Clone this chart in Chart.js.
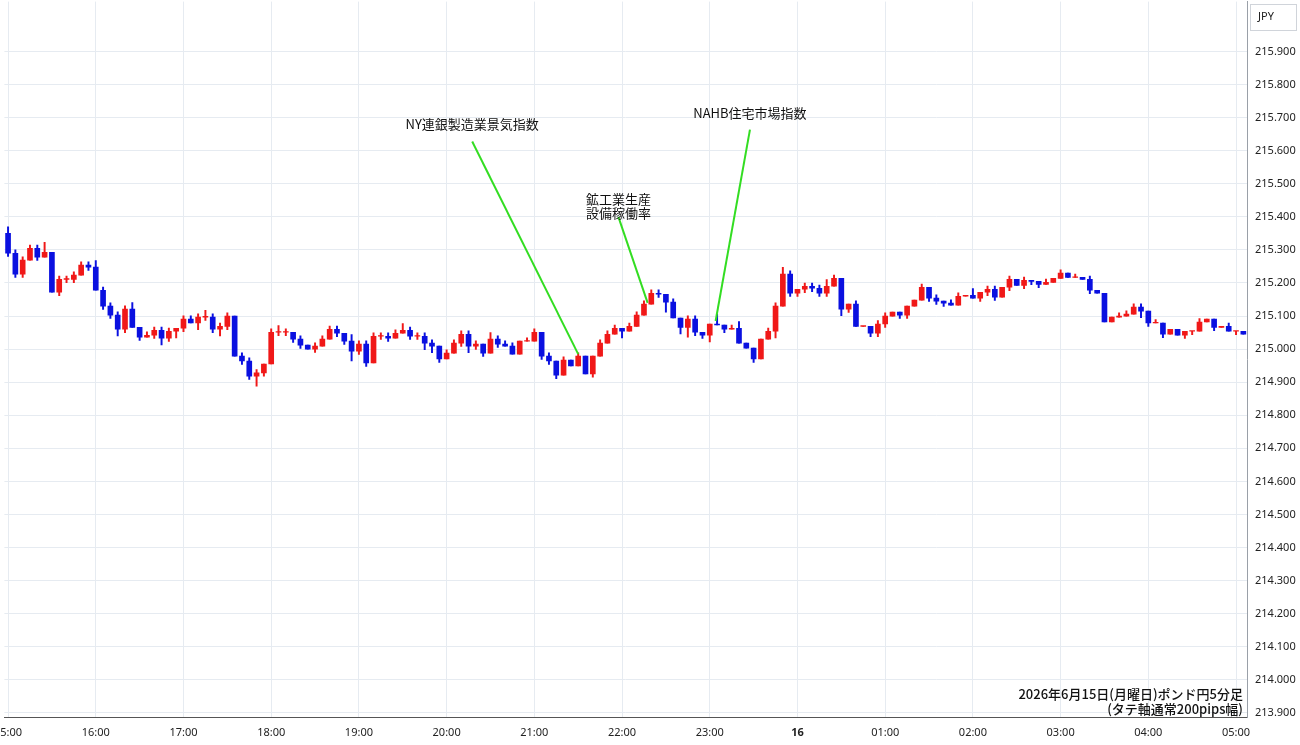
<!DOCTYPE html>
<html><head><meta charset="utf-8">
<script src="https://cdn.jsdelivr.net/npm/chart.js@4.4.1/dist/chart.umd.min.js"></script>
<style>html,body{margin:0;padding:0;background:#fff}#o{position:relative;width:1300px;height:745px;overflow:hidden}#w{position:absolute;left:-14px;top:-13px;width:1314px;height:760px}</style>
</head><body><div id="o"><div id="w"><canvas id="c"></canvas></div></div>
<script>
const firstOpen = 215.350;
const closes = [215.290,215.227,215.269,215.305,215.278,215.293,215.172,215.211,215.211,215.224,215.254,215.248,
215.178,215.130,215.103,215.060,215.121,215.066,215.036,215.042,215.057,215.033,215.054,215.063,
215.091,215.079,215.097,215.097,215.060,215.069,215.100,214.979,214.964,214.918,214.928,214.955,
215.051,215.051,215.051,215.030,215.012,215.000,215.009,215.030,215.060,215.048,215.024,214.994,
215.015,214.958,215.039,215.039,215.033,215.048,215.057,215.039,215.039,215.018,215.009,214.970,
214.988,215.018,215.045,215.009,215.015,214.988,215.030,215.015,215.009,214.985,215.024,215.024,
215.051,214.979,214.964,214.921,214.967,214.949,214.979,214.925,214.979,215.018,215.045,215.063,
215.054,215.069,215.103,215.136,215.169,215.166,215.142,215.094,215.066,215.091,215.051,215.042,
215.076,215.073,215.060,215.063,215.018,215.003,214.970,215.030,215.054,215.130,215.227,215.169,
215.181,215.190,215.184,215.169,215.190,215.214,215.121,215.136,215.069,215.069,215.048,215.076,
215.100,215.112,215.103,215.130,215.148,215.187,215.154,215.145,215.139,215.133,215.160,215.163,
215.154,215.172,215.181,215.157,215.187,215.211,215.193,215.208,215.205,215.196,215.202,215.214,
215.230,215.217,215.217,215.211,215.178,215.169,215.082,215.097,215.100,215.106,215.127,215.115,
215.079,215.079,215.045,215.060,215.042,215.054,215.054,215.082,215.091,215.066,215.069,215.054,
215.054,215.045];
const wickUp = [0.02,0.01,0.01,0.01,0.01,0.03,0.0,0.01,0.01,0.01,0.01,0.01, 0.02,0.01,0.01,0.01,0.01,0.02,0.0,0.01,0.01,0.01,0.01,0.0,
0.01,0.01,0.01,0.02,0.01,0.01,0.01,0.0,0.01,0.01,0.01,0.0, 0.01,0.02,0.01,0.0,0.01,0.0,0.01,0.01,0.01,0.01,0.0,0.02,
0.01,0.01,0.01,0.01,0.01,0.01,0.02,0.01,0.01,0.01,0.01,0.0, 0.01,0.01,0.01,0.01,0.01,0.0,0.02,0.01,0.01,0.01,0.0,0.01,
0.01,0.0,0.01,0.0,0.01,0.0,0.01,0.0,0.0,0.01,0.01,0.01, 0.0,0.01,0.01,0.01,0.01,0.01,0.0,0.01,0.0,0.01,0.01,0.0,
0.0,0.03,0.0,0.01,0.02,0.0,0.0,0.0,0.01,0.01,0.02,0.01, 0.0,0.01,0.01,0.01,0.02,0.01,0.0,0.0,0.01,0.0,0.0,0.01,
0.01,0.0,0.0,0.0,0.0,0.01,0.0,0.01,0.0,0.01,0.01,0.0, 0.02,0.0,0.01,0.01,0.0,0.01,0.0,0.01,0.0,0.0,0.01,0.0,
0.01,0.0,0.01,0.0,0.01,0.0,0.0,0.0,0.01,0.01,0.01,0.01, 0.0,0.01,0.0,0.0,0.0,0.0,0.0,0.01,0.0,0.0,0.0,0.01,0.0,0.0];
const wickDn = [0.01,0.01,0.01,0.0,0.01,0.0,0.0,0.01,0.01,0.01,0.0,0.01, 0.0,0.01,0.01,0.02,0.01,0.0,0.01,0.0,0.01,0.02,0.01,0.02,
0.01,0.0,0.02,0.01,0.01,0.02,0.01,0.0,0.01,0.01,0.03,0.01, 0.0,0.01,0.01,0.01,0.01,0.0,0.01,0.0,0.0,0.01,0.01,0.03,
0.01,0.01,0.0,0.01,0.01,0.0,0.0,0.01,0.01,0.02,0.02,0.01, 0.0,0.0,0.01,0.02,0.01,0.01,0.0,0.01,0.0,0.0,0.0,0.0,
0.0,0.01,0.01,0.01,0.0,0.0,0.0,0.0,0.01,0.0,0.0,0.0, 0.02,0.0,0.0,0.0,0.0,0.01,0.03,0.0,0.02,0.03,0.01,0.01,
0.02,0.0,0.01,0.0,0.0,0.0,0.01,0.0,0.0,0.02,0.0,0.01, 0.01,0.01,0.01,0.01,0.01,0.0,0.02,0.01,0.0,0.0,0.01,0.01,
0.01,0.0,0.01,0.01,0.0,0.0,0.01,0.01,0.01,0.0,0.0,0.0, 0.0,0.01,0.01,0.01,0.0,0.01,0.0,0.01,0.01,0.01,0.0,0.0,
0.0,0.0,0.0,0.0,0.01,0.0,0.0,0.0,0.0,0.0,0.0,0.02, 0.01,0.0,0.01,0.0,0.0,0.01,0.01,0.0,0.0,0.01,0.0,0.0,0.01,0.0];
const startHour = 15;
const timeLabels = closes.map((_, i) => {
  const m = i * 5, h = (startHour + Math.floor(m / 60)) % 24, mm = m % 60;
  return String(h).padStart(2,'0') + ':' + String(mm).padStart(2,'0');
});
const tickLabels = ['215.900','215.800','215.700','215.600','215.500','215.400','215.300','215.200','215.100','215.000',
 '214.900','214.800','214.700','214.600','214.500','214.400','214.300','214.200','214.100','214.000','213.900'];
const events = [
  {text:['NY連銀製造業景気指数'], tx:63.5, ty:215.655, fromY:215.628, toI:78, toV:214.985},
  {text:['鉱工業生産','設備稼働率'], tx:83.5, ty:215.388, fromY:215.40, toI:87.5, toV:215.140},
  {text:['NAHB住宅市場指数'], tx:101.5, ty:215.690, fromY:215.664, toI:96.8, toV:215.085}
];
const noteLines = ['2026年6月15日(月曜日)ポンド円5分足','(タテ軸通常200pips幅)'];

const opens = closes.map((c, i) => i === 0 ? firstOpen : closes[i-1]);
const RED = '#f01818', BLUE = '#0a10e0';
const cols = closes.map((c, i) => c >= opens[i] ? RED : BLUE);
const bodies = closes.map((c, i) => {
  let a = opens[i], b = c; if (Math.abs(a-b) < 0.002) { b = a + (c >= a ? 0.002 : -0.002); }
  return [a, b];
});
const wicks = closes.map((c, i) => [Math.min(opens[i], c) - wickDn[i], Math.max(opens[i], c) + wickUp[i]]);

const overlay = {
  id:'overlay',
  afterDatasetsDraw(chart){
    const ctx = chart.ctx, x = chart.scales.x, y = chart.scales.y;
    ctx.save();
    ctx.strokeStyle = '#33dd22'; ctx.lineWidth = 2;
    ctx.fillStyle = '#111'; ctx.font = '13px "Noto Sans CJK JP", sans-serif';
    ctx.textAlign = 'center'; ctx.textBaseline = 'middle';
    const px = v => x.getPixelForValue(0) + v * (x.getPixelForValue(1) - x.getPixelForValue(0));
    events.forEach(e => {
      ctx.beginPath(); ctx.moveTo(px(e.tx), y.getPixelForValue(e.fromY));
      ctx.lineTo(px(e.toI), y.getPixelForValue(e.toV)); ctx.stroke();
      const n = e.text.length;
      e.text.forEach((t, k) => ctx.fillText(t, px(e.tx), y.getPixelForValue(e.ty) - (n - 1 - k) * 14 - 8));
    });
    ctx.textAlign = 'right'; ctx.font = '500 13px "Noto Sans CJK JP", sans-serif';
    ctx.fillText(noteLines[0], x.right - 4, y.getPixelForValue(213.9) - 19);
    ctx.fillText(noteLines[1], x.right - 4, y.getPixelForValue(213.9) - 4);
    ctx.textAlign = 'left'; ctx.font = '11px "Noto Sans", sans-serif'; ctx.fillStyle = '#222';
    ctx.fillText('JPY', x.right + 11, 30);
    ctx.strokeStyle = '#d0d4da'; ctx.lineWidth = 1;
    ctx.strokeRect(x.right + 3.5, 17.5, 46, 26);
    ctx.restore();
  }
};

new Chart(document.getElementById('c'), {
  type:'bar',
  data:{ labels: timeLabels, datasets:[
    {data: wicks, backgroundColor: cols, barThickness: 1.3, grouped:false, order:2},
    {data: bodies, backgroundColor: cols, barThickness: 5, grouped:false, order:1}
  ]},
  options:{
    responsive:true, maintainAspectRatio:false, animation:false,
    layout:{padding:{left:0, right:0, top:0, bottom:0}},
    plugins:{legend:{display:false}, tooltip:{enabled:false}},
    scales:{
      x:{ offset:true, grid:{offset:false, drawTicks:false,
            color: c => (c.tick && c.tick.label !== '' ? '#e6ebf1' : 'transparent')},
          border:{display:true, color:'#555'},
          ticks:{autoSkip:false, maxRotation:0, padding:8, color:'#222',
            font: c => ({size:11, family:'"Noto Sans", sans-serif', weight: (timeLabels[c.index]==='00:00') ? 'bold':'normal'}),
            callback:(v, i) => { const l = timeLabels[i]; if (!l.endsWith(':00')) return ''; return l === '00:00' ? '16' : l; }}
      },
      y:{ position:'right', min:213.885, max:216.051,
          afterBuildTicks: s => { s.ticks = tickLabels.map(t => ({value: parseFloat(t)})); },
          afterFit: s => { s.width = 53; },
          grid:{color:'#e6ebf1', drawTicks:false}, border:{color:'#9aa0a8'},
          ticks:{padding:8, color:'#222', font:{size:11, family:'"Noto Sans", sans-serif'},
            callback: v => v.toFixed(3)}
      }
    }
  },
  plugins:[overlay]
});
</script></body></html>
